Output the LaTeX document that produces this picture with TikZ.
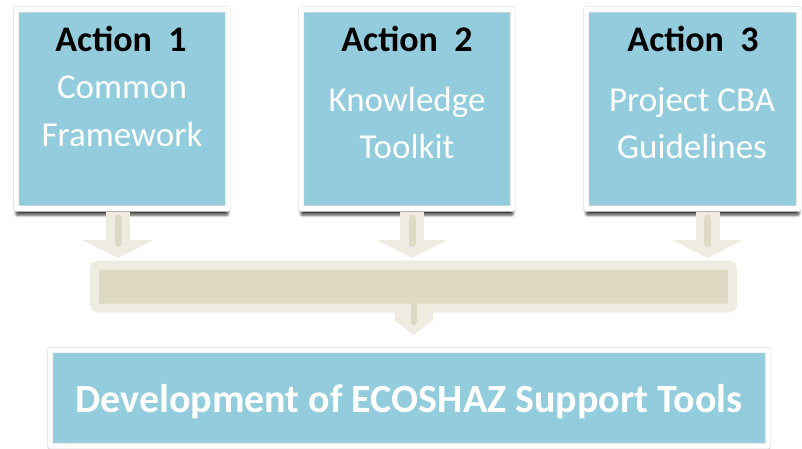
\documentclass[tikz,border=0pt]{standalone}
\usepackage{fontspec}
\setmainfont{Carlito}
\usetikzlibrary{arrows.meta,shadows.blur,calc}
\definecolor{boxblue}{RGB}{147,205,221}
\definecolor{tanlight}{RGB}{238,236,225}
\definecolor{tandark}{RGB}{221,217,195}
\definecolor{frameedge}{RGB}{222,222,222}
\begin{document}
\begin{tikzpicture}[x=1pt,y=-1pt,
  framed/.style={draw=frameedge, line width=0.6pt, double=white, double distance=5pt,
    fill=boxblue, inner sep=0pt, outer sep=0pt, rounded corners=1pt,
    blur shadow={shadow xshift=0pt, shadow yshift=-6.5pt, shadow blur radius=2.5pt, shadow opacity=75}},
  actionbox/.style={framed, minimum width=212pt, minimum height=199pt},
  titletext/.style={anchor=base, inner sep=0pt, font=\fontsize{36}{40}\selectfont\bfseries, text=black},
  bodytext/.style={anchor=base, inner sep=0pt, font=\fontsize{35}{40}\selectfont, text=white},
  stemarrow/.style={tanlight, line width=24pt, -{Triangle[width=70pt,length=18pt]}},
  stripe/.style={tandark, line width=7pt, line cap=round},
]
\useasboundingbox (0,0) rectangle (802,449);

% collecting bar
\node[draw=tanlight, line width=9pt, fill=tandark, rounded corners=4pt,
      minimum width=638pt, minimum height=43pt, inner sep=0pt, outer sep=0pt]
      (bar) at (413.5,286.5) {};

% result box
\node[framed, minimum width=718pt, minimum height=96pt] (dev) at (409,398) {};
\node[anchor=base, inner sep=0pt, font=\fontsize{40}{44}\selectfont\bfseries, text=white]
      (devtext) at (409,412) {Development of ECOSHAZ Support Tools};

% bar to result box
\draw[tanlight, line width=38pt, -{Triangle[width=38pt,length=15pt]}, shorten >=15pt]
      (bar.south) -- (bar.south |- dev.north);
\draw[tandark, line width=6pt, line cap=round, shorten <=-2pt, shorten >=28pt]
      (bar.south) -- (bar.south |- dev.north);

% action boxes
\node[actionbox] (a1) at (122,109) {};
\node[actionbox] (a2) at (407,109) {};
\node[actionbox, minimum width=213pt] (a3) at (692.5,109) {};

\node[titletext] (t1) at (121,52) {Action\ \ 1};
\node[bodytext]  (b1a) at (122,99)  {Common};
\node[bodytext]  (b1b) at (122,147) {Framework};

\node[titletext] (t2) at (407,52) {Action\ \ 2};
\node[bodytext]  (b2a) at (407,112) {Knowledge};
\node[bodytext]  (b2b) at (407,158) {Toolkit};

\node[titletext] (t3) at (693,52) {Action\ \ 3};
\node[bodytext]  (b3a) at (692,112) {Project CBA};
\node[bodytext]  (b3b) at (692,158) {Guidelines};

% arrows from each action down to the bar
\coordinate (s1) at ($(a1.south)+(-4,3)$);
\coordinate (s2) at ($(a2.south)+(5,3)$);
\coordinate (s3) at ($(a3.south)+(15,3)$);
\foreach \i in {1,2,3}{
  \coordinate (e\i) at (s\i |- bar.north);
  \draw[stemarrow, shorten >=7pt] (s\i) -- (e\i);
  \draw[stripe, shorten <=7pt, shorten >=21.5pt] (s\i) -- (e\i);
}
\end{tikzpicture}
\end{document}
